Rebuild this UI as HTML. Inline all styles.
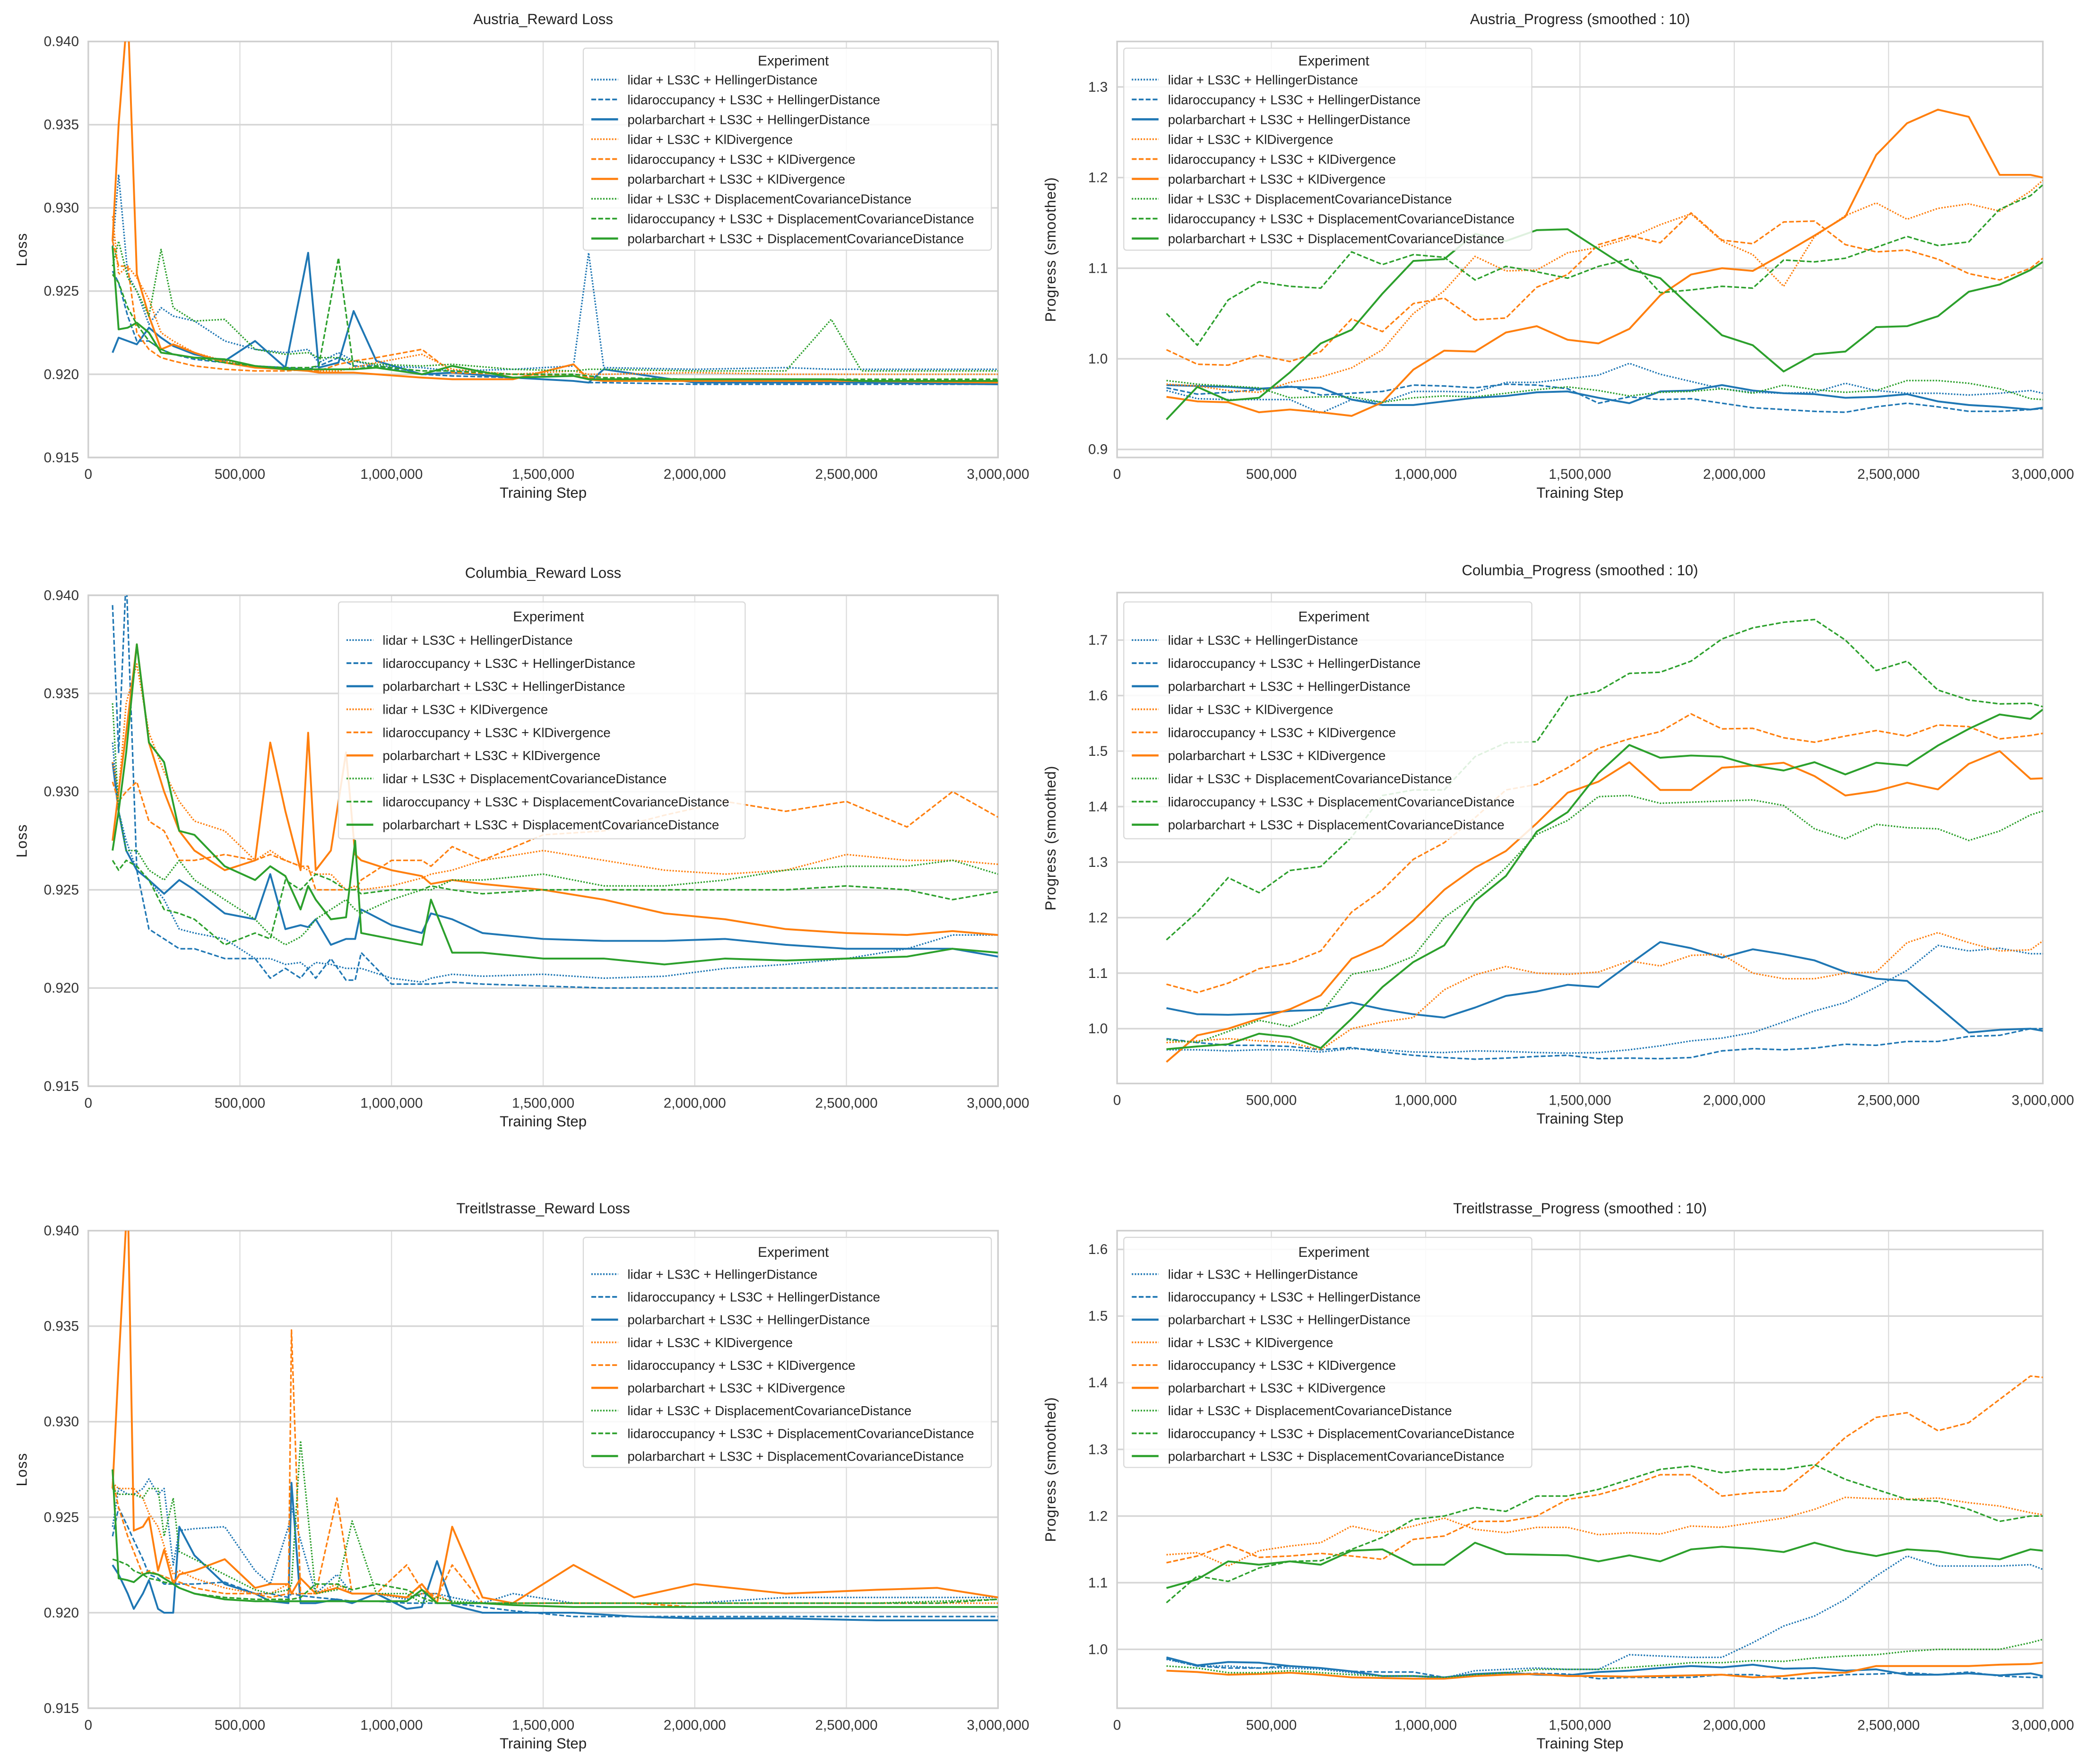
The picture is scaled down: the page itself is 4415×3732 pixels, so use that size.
<!DOCTYPE html>
<html><head><meta charset="utf-8">
<style>
html,body{margin:0;padding:0;background:#fff;}
svg{display:block;font-family:"Liberation Sans Narrow","Liberation Sans",sans-serif;}
</style></head>
<body>
<svg id="fig" xmlns="http://www.w3.org/2000/svg" width="4415" height="3732" viewBox="0 0 1560 1318.7" preserveAspectRatio="none"></svg>
<script>
// ---------- data ----------
const seriesNames = ["lidar + LS3C + HellingerDistance","lidaroccupancy + LS3C + HellingerDistance","polarbarchart + LS3C + HellingerDistance","lidar + LS3C + KlDivergence","lidaroccupancy + LS3C + KlDivergence","polarbarchart + LS3C + KlDivergence","lidar + LS3C + DisplacementCovarianceDistance","lidaroccupancy + LS3C + DisplacementCovarianceDistance","polarbarchart + LS3C + DisplacementCovarianceDistance"];
const progressSteps = [160,260,360,460,560,660,760,860,960,1060,1160,1260,1360,1460,1560,1660,1760,1860,1960,2060,2160,2260,2360,2460,2560,2660,2760,2860,2960,3000];

const austriaLossSteps = [80,100,130,160,200,240,280,350,450,550,650,725,760,825,875,950,1100,1200,1400,1600,1650,1700,2000,2300,2450,2550,3000];
const austriaLidarHD = [0.9275,0.932,0.926,0.925,0.923,0.924,0.9235,0.9232,0.922,0.9215,0.9213,0.9215,0.9207,0.9213,0.9208,0.9205,0.9204,0.9202,0.9203,0.9205,0.9273,0.9204,0.9203,0.9204,0.9203,0.9203,0.9203];
const austriaOccHD = [0.9262,0.9255,0.9235,0.922,0.922,0.9215,0.9212,0.9209,0.9207,0.9205,0.9204,0.9203,0.9205,0.921,0.9205,0.9205,0.920,0.9199,0.9198,0.9196,0.9195,0.9195,0.9194,0.9194,0.9194,0.9194,0.9194];
const austriaPolarHD = [0.9213,0.9222,0.922,0.9218,0.9228,0.9222,0.9217,0.9212,0.9208,0.922,0.9204,0.9273,0.9204,0.9207,0.9238,0.9208,0.920,0.9201,0.9198,0.9196,0.9195,0.9203,0.9195,0.9195,0.9195,0.9195,0.9194];
const austriaLidarKL = [0.9295,0.926,0.9265,0.9258,0.9245,0.9225,0.922,0.9213,0.9208,0.9205,0.9203,0.9202,0.9202,0.9202,0.9204,0.9207,0.9212,0.9203,0.920,0.9202,0.920,0.920,0.9201,0.920,0.920,0.920,0.920];
const austriaOccKL = [0.928,0.9265,0.9265,0.9225,0.9215,0.921,0.9208,0.9205,0.9203,0.9202,0.9202,0.9203,0.9202,0.9206,0.9208,0.921,0.9215,0.9201,0.920,0.9199,0.9198,0.9197,0.9197,0.9196,0.9196,0.9196,0.9196];
const austriaPolarKL = [0.928,0.935,0.942,0.926,0.9235,0.9215,0.9218,0.9213,0.9207,0.9204,0.9203,0.9202,0.9201,0.9201,0.9201,0.920,0.9198,0.9197,0.9197,0.9206,0.9197,0.9196,0.9196,0.9196,0.9196,0.9196,0.9195];
const austriaLidarDCD = [0.9265,0.928,0.9258,0.925,0.9235,0.9275,0.924,0.9232,0.9233,0.9215,0.9212,0.9213,0.921,0.921,0.9208,0.9206,0.9205,0.9206,0.9203,0.9202,0.9203,0.9203,0.9202,0.9202,0.9233,0.9202,0.9202];
const austriaOccDCD = [0.926,0.9255,0.924,0.923,0.922,0.9215,0.9212,0.921,0.9207,0.9205,0.9204,0.9204,0.9205,0.927,0.9203,0.9205,0.9202,0.9202,0.920,0.920,0.9199,0.9198,0.9197,0.9197,0.9197,0.9197,0.9197];
const austriaPolarDCD = [0.9277,0.9227,0.9228,0.9231,0.9225,0.9213,0.9212,0.921,0.9209,0.9205,0.9203,0.9203,0.9203,0.9203,0.9203,0.9204,0.920,0.9205,0.9198,0.9199,0.9197,0.9197,0.9197,0.9197,0.9197,0.9196,0.9196];

const austriaProgLidarHD = [0.965,0.956,0.955,0.955,0.955,0.94,0.955,0.952,0.964,0.964,0.963,0.974,0.974,0.978,0.982,0.995,0.983,0.975,0.967,0.963,0.962,0.963,0.973,0.965,0.962,0.962,0.96,0.962,0.965,0.962];
const austriaProgOccHD = [0.968,0.961,0.963,0.966,0.97,0.96,0.962,0.964,0.971,0.97,0.968,0.972,0.971,0.967,0.951,0.958,0.955,0.956,0.951,0.946,0.944,0.942,0.941,0.947,0.951,0.947,0.942,0.942,0.944,0.945];
const austriaProgPolarHD = [0.971,0.97,0.969,0.967,0.969,0.968,0.955,0.949,0.949,0.953,0.957,0.959,0.963,0.964,0.957,0.951,0.964,0.965,0.971,0.965,0.962,0.961,0.957,0.958,0.961,0.953,0.949,0.947,0.944,0.946];
const austriaProgLidarKL = [0.972,0.97,0.965,0.963,0.974,0.98,0.99,1.01,1.05,1.075,1.113,1.097,1.098,1.117,1.123,1.133,1.148,1.16,1.13,1.115,1.08,1.135,1.158,1.172,1.154,1.166,1.171,1.163,1.185,1.197];
const austriaProgOccKL = [1.01,0.994,0.993,1.004,0.997,1.008,1.044,1.03,1.061,1.067,1.043,1.045,1.079,1.093,1.126,1.136,1.128,1.161,1.131,1.127,1.151,1.152,1.126,1.118,1.12,1.11,1.094,1.087,1.1,1.111];
const austriaProgPolarKL = [0.958,0.953,0.952,0.941,0.944,0.941,0.937,0.952,0.988,1.009,1.008,1.029,1.036,1.021,1.017,1.033,1.07,1.093,1.1,1.097,1.116,1.136,1.157,1.225,1.26,1.275,1.267,1.203,1.203,1.2];
const austriaProgLidarDCD = [0.976,0.972,0.97,0.968,0.957,0.958,0.958,0.952,0.957,0.959,0.958,0.962,0.966,0.969,0.965,0.959,0.963,0.964,0.967,0.962,0.971,0.966,0.963,0.965,0.976,0.976,0.973,0.967,0.956,0.955];
const austriaProgOccDCD = [1.05,1.015,1.065,1.085,1.08,1.078,1.118,1.104,1.115,1.112,1.087,1.102,1.096,1.089,1.102,1.11,1.073,1.076,1.08,1.078,1.109,1.107,1.111,1.123,1.135,1.125,1.129,1.165,1.18,1.192];
const austriaProgPolarDCD = [0.933,0.969,0.954,0.957,0.985,1.017,1.032,1.072,1.108,1.11,1.138,1.13,1.142,1.143,1.121,1.099,1.089,1.057,1.026,1.015,0.986,1.005,1.008,1.035,1.036,1.047,1.074,1.082,1.098,1.107];

const columbiaLossSteps = [80,100,125,160,200,250,300,350,450,550,600,650,700,725,750,800,850,880,900,1000,1100,1130,1200,1300,1500,1700,1900,2100,2300,2500,2700,2850,3000];
const columbiaLidarHD = [0.9325,0.929,0.9275,0.926,0.9255,0.9245,0.923,0.9228,0.9225,0.9215,0.9215,0.9212,0.9213,0.921,0.9213,0.9212,0.921,0.921,0.921,0.9205,0.9203,0.9205,0.9207,0.9206,0.9207,0.9205,0.9206,0.921,0.9212,0.9215,0.922,0.9227,0.9227];
const columbiaOccHD = [0.9395,0.932,0.941,0.926,0.923,0.9225,0.922,0.922,0.9215,0.9215,0.9205,0.921,0.9205,0.921,0.9205,0.9215,0.9204,0.9204,0.9218,0.9202,0.9202,0.9202,0.9203,0.9202,0.9201,0.920,0.920,0.920,0.920,0.920,0.920,0.920,0.920];
const columbiaPolarHD = [0.9315,0.929,0.927,0.926,0.9255,0.9248,0.9255,0.925,0.9238,0.9235,0.9258,0.923,0.9232,0.9231,0.9235,0.9222,0.9225,0.9225,0.924,0.9232,0.9228,0.9238,0.9235,0.9228,0.9225,0.9224,0.9224,0.9225,0.9222,0.922,0.922,0.922,0.9216];
const columbiaLidarKL = [0.9315,0.930,0.9345,0.9365,0.933,0.931,0.9295,0.9285,0.928,0.9265,0.927,0.9265,0.9262,0.926,0.9258,0.9258,0.925,0.9252,0.925,0.9252,0.9256,0.9258,0.926,0.9265,0.927,0.9265,0.926,0.9258,0.926,0.9268,0.9265,0.9265,0.9263];
const columbiaOccKL = [0.9305,0.9295,0.930,0.9305,0.9285,0.928,0.9265,0.9265,0.9268,0.9265,0.9268,0.9265,0.9262,0.9262,0.925,0.925,0.925,0.925,0.9255,0.9265,0.9265,0.9262,0.9272,0.9265,0.9278,0.928,0.9288,0.9295,0.929,0.9295,0.9282,0.930,0.9287];
const columbiaPolarKL = [0.9275,0.930,0.933,0.9375,0.9325,0.930,0.928,0.927,0.926,0.9265,0.9325,0.929,0.926,0.933,0.926,0.927,0.932,0.9268,0.9265,0.926,0.9257,0.9253,0.9255,0.9253,0.925,0.9245,0.9238,0.9235,0.923,0.9228,0.9227,0.9229,0.9227];
const columbiaLidarDCD = [0.9345,0.929,0.927,0.927,0.926,0.9255,0.9265,0.9255,0.9245,0.9235,0.9227,0.9222,0.9226,0.923,0.9235,0.924,0.9245,0.924,0.9238,0.9245,0.925,0.925,0.9255,0.9255,0.9258,0.9252,0.9252,0.9255,0.926,0.9262,0.9262,0.9265,0.9258];
const columbiaOccDCD = [0.9265,0.926,0.9265,0.9262,0.9255,0.924,0.9238,0.9235,0.9222,0.9228,0.9225,0.9255,0.925,0.9254,0.9258,0.9255,0.925,0.925,0.9248,0.925,0.925,0.9252,0.925,0.9248,0.925,0.925,0.925,0.925,0.925,0.9252,0.925,0.9245,0.9249];
const columbiaPolarDCD = [0.927,0.929,0.932,0.9375,0.9325,0.9315,0.928,0.9278,0.9262,0.9255,0.9262,0.9257,0.924,0.9252,0.9245,0.9235,0.9236,0.9275,0.9228,0.9225,0.9222,0.9245,0.9218,0.9218,0.9215,0.9215,0.9212,0.9215,0.9214,0.9215,0.9216,0.922,0.9218];

const columbiaProgLidarHD = [0.962,0.962,0.96,0.962,0.962,0.958,0.964,0.962,0.958,0.957,0.96,0.959,0.957,0.956,0.957,0.962,0.969,0.978,0.983,0.993,1.012,1.032,1.047,1.075,1.105,1.15,1.14,1.145,1.135,1.135];
const columbiaProgOccHD = [0.982,0.975,0.97,0.97,0.968,0.962,0.966,0.958,0.952,0.948,0.945,0.947,0.95,0.952,0.946,0.947,0.946,0.948,0.96,0.964,0.962,0.965,0.972,0.97,0.977,0.977,0.986,0.988,1.0,1.0];
const columbiaProgPolarHD = [1.037,1.026,1.025,1.027,1.032,1.034,1.047,1.035,1.026,1.02,1.038,1.059,1.067,1.079,1.075,1.116,1.156,1.145,1.128,1.143,1.134,1.123,1.102,1.09,1.086,1.04,0.993,0.998,1.0,0.996];
const columbiaProgLidarKL = [0.975,0.978,0.982,0.978,0.975,0.962,1.0,1.012,1.02,1.07,1.097,1.112,1.1,1.098,1.102,1.122,1.113,1.132,1.134,1.1,1.09,1.09,1.1,1.102,1.155,1.173,1.155,1.14,1.142,1.158];
const columbiaProgOccKL = [1.08,1.065,1.082,1.108,1.118,1.14,1.21,1.25,1.305,1.335,1.38,1.43,1.44,1.47,1.505,1.522,1.535,1.567,1.54,1.541,1.524,1.516,1.527,1.537,1.527,1.547,1.544,1.522,1.528,1.532];
const columbiaProgPolarKL = [0.94,0.988,1.0,1.018,1.035,1.06,1.126,1.15,1.195,1.25,1.29,1.32,1.37,1.425,1.445,1.48,1.43,1.43,1.47,1.474,1.479,1.455,1.42,1.428,1.443,1.431,1.477,1.5,1.45,1.451];
const columbiaProgLidarDCD = [0.98,0.975,0.995,1.015,1.004,1.027,1.098,1.108,1.13,1.2,1.24,1.29,1.35,1.375,1.418,1.42,1.406,1.408,1.41,1.412,1.402,1.36,1.342,1.368,1.362,1.36,1.339,1.356,1.385,1.392];
const columbiaProgOccDCD = [1.16,1.21,1.272,1.245,1.285,1.292,1.345,1.42,1.43,1.43,1.49,1.515,1.517,1.598,1.608,1.64,1.642,1.662,1.702,1.722,1.732,1.737,1.7,1.645,1.662,1.61,1.592,1.585,1.586,1.58];
const columbiaProgPolarDCD = [0.963,0.968,0.972,0.991,0.985,0.965,1.018,1.075,1.12,1.15,1.23,1.275,1.355,1.39,1.46,1.511,1.488,1.492,1.49,1.474,1.465,1.48,1.458,1.479,1.474,1.51,1.54,1.566,1.558,1.575];

const treitlLossSteps = [80,100,130,150,180,200,230,250,280,300,350,450,550,600,660,670,700,750,820,870,950,1050,1100,1150,1200,1300,1400,1600,1800,2000,2300,2600,2800,3000];
const treitlLidarHD = [0.9245,0.9265,0.9262,0.9262,0.9265,0.927,0.9262,0.9265,0.9225,0.9243,0.9244,0.9245,0.9222,0.9215,0.9245,0.9255,0.9238,0.921,0.922,0.921,0.921,0.9207,0.921,0.921,0.9208,0.9205,0.921,0.9205,0.9205,0.9205,0.9208,0.9208,0.9208,0.9208];
const treitlOccHD = [0.924,0.9255,0.9245,0.9238,0.9228,0.922,0.9218,0.9215,0.9215,0.9215,0.9215,0.9216,0.921,0.921,0.9208,0.921,0.9209,0.9208,0.9207,0.9206,0.9206,0.9205,0.9205,0.9205,0.9205,0.9203,0.9201,0.9198,0.9198,0.9198,0.9198,0.9198,0.9198,0.9198];
const treitlPolarHD = [0.9225,0.922,0.921,0.9202,0.921,0.9217,0.9202,0.920,0.920,0.9245,0.923,0.9215,0.921,0.9206,0.9205,0.9268,0.9205,0.9205,0.9207,0.9205,0.921,0.9202,0.9203,0.9227,0.9204,0.920,0.920,0.920,0.9198,0.9197,0.9197,0.9196,0.9196,0.9196];
const treitlLidarKL = [0.9268,0.9265,0.9265,0.9265,0.926,0.9252,0.9245,0.9235,0.922,0.9222,0.9218,0.9213,0.921,0.921,0.9215,0.921,0.921,0.921,0.9215,0.921,0.921,0.9208,0.921,0.921,0.9205,0.9205,0.9205,0.9205,0.9205,0.9205,0.9205,0.9205,0.9205,0.9205];
const treitlOccKL = [0.927,0.9255,0.924,0.9232,0.922,0.9222,0.922,0.9219,0.9217,0.9216,0.9213,0.921,0.921,0.9208,0.921,0.9348,0.921,0.921,0.926,0.921,0.921,0.9225,0.9212,0.9208,0.9225,0.9205,0.9205,0.9205,0.9205,0.9203,0.9203,0.9203,0.9203,0.9203];
const treitlPolarKL = [0.9265,0.933,0.942,0.9243,0.9245,0.925,0.9222,0.9233,0.9215,0.922,0.9222,0.9228,0.9213,0.9215,0.9215,0.921,0.9218,0.921,0.9213,0.921,0.921,0.9208,0.9215,0.9205,0.9245,0.9208,0.9205,0.9225,0.9208,0.9215,0.921,0.9212,0.9213,0.9208];
const treitlLidarDCD = [0.9265,0.9262,0.9262,0.9262,0.926,0.9265,0.9265,0.924,0.926,0.9232,0.9228,0.922,0.9212,0.921,0.9212,0.9215,0.929,0.921,0.9212,0.9248,0.921,0.921,0.9205,0.9208,0.9206,0.9205,0.9205,0.9205,0.9205,0.9205,0.9205,0.9205,0.9206,0.9207];
const treitlOccDCD = [0.9228,0.9227,0.9225,0.9222,0.922,0.9218,0.9217,0.9216,0.9215,0.9213,0.921,0.9208,0.9207,0.9207,0.9207,0.9207,0.9208,0.9215,0.9215,0.9212,0.9215,0.9212,0.9208,0.9205,0.9205,0.9205,0.9205,0.9205,0.9205,0.9205,0.9205,0.9205,0.9205,0.9207];
const treitlPolarDCD = [0.9275,0.9218,0.9217,0.9216,0.922,0.9221,0.922,0.9218,0.9215,0.9213,0.921,0.9207,0.9206,0.9206,0.9206,0.9206,0.9206,0.9206,0.9206,0.9206,0.9206,0.9206,0.9212,0.9205,0.9205,0.9205,0.9204,0.9203,0.9203,0.9203,0.9203,0.9203,0.9203,0.9203];

const treitlProgLidarHD = [0.985,0.975,0.975,0.972,0.972,0.97,0.965,0.96,0.96,0.957,0.968,0.97,0.972,0.97,0.97,0.992,0.99,0.988,0.988,1.01,1.035,1.05,1.075,1.11,1.14,1.125,1.125,1.125,1.127,1.12];
const treitlProgOccHD = [0.986,0.975,0.972,0.972,0.975,0.972,0.967,0.966,0.966,0.958,0.962,0.963,0.964,0.963,0.956,0.958,0.958,0.958,0.962,0.962,0.956,0.957,0.962,0.963,0.965,0.962,0.966,0.96,0.958,0.958];
const treitlProgPolarHD = [0.988,0.976,0.981,0.98,0.975,0.972,0.967,0.96,0.96,0.958,0.963,0.965,0.962,0.961,0.966,0.968,0.972,0.975,0.973,0.977,0.971,0.972,0.968,0.97,0.962,0.962,0.964,0.961,0.964,0.96];
const treitlProgLidarKL = [1.142,1.145,1.125,1.148,1.155,1.16,1.185,1.175,1.185,1.197,1.18,1.175,1.183,1.183,1.172,1.175,1.173,1.185,1.183,1.19,1.197,1.21,1.228,1.226,1.225,1.227,1.22,1.215,1.205,1.202];
const treitlProgOccKL = [1.13,1.14,1.157,1.138,1.14,1.144,1.14,1.135,1.165,1.17,1.192,1.192,1.2,1.225,1.232,1.245,1.262,1.262,1.23,1.235,1.238,1.275,1.318,1.348,1.355,1.328,1.34,1.375,1.41,1.408];
const treitlProgPolarKL = [0.968,0.966,0.962,0.963,0.965,0.962,0.958,0.957,0.956,0.956,0.96,0.962,0.963,0.96,0.96,0.959,0.96,0.961,0.962,0.958,0.96,0.965,0.965,0.975,0.975,0.975,0.975,0.977,0.978,0.98];
const treitlProgLidarDCD = [0.975,0.972,0.965,0.965,0.968,0.965,0.962,0.96,0.96,0.958,0.962,0.965,0.97,0.97,0.97,0.973,0.976,0.98,0.98,0.983,0.982,0.987,0.99,0.992,0.997,1.0,1.0,1.0,1.01,1.015];
const treitlProgOccDCD = [1.07,1.11,1.102,1.122,1.132,1.133,1.15,1.168,1.195,1.2,1.213,1.207,1.23,1.23,1.24,1.255,1.27,1.275,1.265,1.27,1.27,1.277,1.255,1.24,1.225,1.222,1.21,1.192,1.2,1.2];
const treitlProgPolarDCD = [1.092,1.105,1.132,1.127,1.132,1.127,1.148,1.15,1.127,1.127,1.16,1.143,1.142,1.141,1.132,1.141,1.132,1.15,1.154,1.151,1.146,1.16,1.148,1.14,1.15,1.147,1.139,1.135,1.15,1.148];

const lossTicks = [0.915,0.920,0.925,0.930,0.935,0.940];
const xTicks = [0,500000,1000000,1500000,2000000,2500000,3000000];
const xTickLabels = ["0","500,000","1,000,000","1,500,000","2,000,000","2,500,000","3,000,000"];

// ---------- drawing ----------
const NS = "http://www.w3.org/2000/svg";
const svg = document.getElementById("fig");
const COLORS = ["#1f77b4","#1f77b4","#1f77b4","#ff7f0e","#ff7f0e","#ff7f0e","#2ca02c","#2ca02c","#2ca02c"];
const DASH = ["1.1,1.1","3.6,1.6",null];

function el(tag, attrs, parent){
  const e = document.createElementNS(NS, tag);
  for (const k in attrs) e.setAttribute(k, attrs[k]);
  (parent||svg).appendChild(e);
  return e;
}

const panels = [
  {id:"austria-loss",title:"Austria_Reward Loss",ylab:"Loss",L:66,R:746,T:31,B:342,ymin:0.915,ymax:0.940,ticks:lossTicks,dec:3,steps:austriaLossSteps,
   data:[austriaLidarHD,austriaOccHD,austriaPolarHD,austriaLidarKL,austriaOccKL,austriaPolarKL,austriaLidarDCD,austriaOccDCD,austriaPolarDCD],
   leg:{x:436,y:36,w:305,h:151,ty:45.5,e0:59.5,es:14.85}},
  {id:"austria-progress",title:"Austria_Progress (smoothed : 10)",ylab:"Progress (smoothed)",L:835,R:1527,T:31,B:342,ymin:0.8911,ymax:1.3502,ticks:[0.9,1.0,1.1,1.2,1.3],dec:1,steps:progressSteps,
   data:[austriaProgLidarHD,austriaProgOccHD,austriaProgPolarHD,austriaProgLidarKL,austriaProgOccKL,austriaProgPolarKL,austriaProgLidarDCD,austriaProgOccDCD,austriaProgPolarDCD],
   leg:{x:840,y:36,w:305,h:151,ty:45.5,e0:59.5,es:14.85}},
  {id:"columbia-loss",title:"Columbia_Reward Loss",ylab:"Loss",L:66,R:746,T:445,B:812,ymin:0.915,ymax:0.940,ticks:lossTicks,dec:3,steps:columbiaLossSteps,
   data:[columbiaLidarHD,columbiaOccHD,columbiaPolarHD,columbiaLidarKL,columbiaOccKL,columbiaPolarKL,columbiaLidarDCD,columbiaOccDCD,columbiaPolarDCD],
   leg:{x:253,y:450,w:304,h:177,ty:461,e0:478.5,es:17.25}},
  {id:"columbia-progress",title:"Columbia_Progress (smoothed : 10)",ylab:"Progress (smoothed)",L:835,R:1527,T:443,B:810,ymin:0.9012,ymax:1.7855,ticks:[1.0,1.1,1.2,1.3,1.4,1.5,1.6,1.7],dec:1,steps:progressSteps,
   data:[columbiaProgLidarHD,columbiaProgOccHD,columbiaProgPolarHD,columbiaProgLidarKL,columbiaProgOccKL,columbiaProgPolarKL,columbiaProgLidarDCD,columbiaProgOccDCD,columbiaProgPolarDCD],
   leg:{x:840,y:450,w:305,h:177,ty:461,e0:478.5,es:17.25}},
  {id:"treitlstrasse-loss",title:"Treitlstrasse_Reward Loss",ylab:"Loss",L:66,R:746,T:920,B:1277,ymin:0.915,ymax:0.940,ticks:lossTicks,dec:3,steps:treitlLossSteps,
   data:[treitlLidarHD,treitlOccHD,treitlPolarHD,treitlLidarKL,treitlOccKL,treitlPolarKL,treitlLidarDCD,treitlOccDCD,treitlPolarDCD],
   leg:{x:436,y:925,w:305,h:172,ty:936,e0:952.5,es:17}},
  {id:"treitlstrasse-progress",title:"Treitlstrasse_Progress (smoothed : 10)",ylab:"Progress (smoothed)",L:835,R:1527,T:920,B:1277,ymin:0.9117,ymax:1.6281,ticks:[1.0,1.1,1.2,1.3,1.4,1.5,1.6],dec:1,steps:progressSteps,
   data:[treitlProgLidarHD,treitlProgOccHD,treitlProgPolarHD,treitlProgLidarKL,treitlProgOccKL,treitlProgPolarKL,treitlProgLidarDCD,treitlProgOccDCD,treitlProgPolarDCD],
   leg:{x:840,y:925,w:305,h:172,ty:936,e0:952.5,es:17}}
];

panels.forEach((p, pi) => {
  const g = el("g", {});
  
  
  const xs = v => p.L + (v / 3000000) * (p.R - p.L);
  const ys = v => p.B - (v - p.ymin) / (p.ymax - p.ymin) * (p.B - p.T);

  // title
  const t = el("text", {x:(p.L+p.R)/2, y:p.T-13, "text-anchor":"middle", "font-size":"11", fill:"#222"}, g);
  t.textContent = p.title;
  
  

  // grid
  xTicks.forEach((v, i) => {
    const ln = el("line", {x1:xs(v), x2:xs(v), y1:p.T, y2:p.B, stroke:"#dcdcdc", "stroke-width":"0.8"}, g);
    
    
    const tl = el("text", {x:xs(v), y:p.B+16, "text-anchor":"middle", "font-size":"10.5", fill:"#333"}, g);
    tl.textContent = xTickLabels[i];
    
    
  });
  p.ticks.forEach(v => {
    const ln = el("line", {x1:p.L, x2:p.R, y1:ys(v), y2:ys(v), stroke:"#d6d6d6", "stroke-width":"1.2"}, g);
    
    
    const tl = el("text", {x:p.L-7, y:ys(v)+3.5, "text-anchor":"end", "font-size":"10.5", fill:"#333"}, g);
    tl.textContent = v.toFixed(p.dec);
    
    
  });
  const frame = el("rect", {x:p.L, y:p.T, width:p.R-p.L, height:p.B-p.T, fill:"none", stroke:"#cfcfcf", "stroke-width":"1.2"}, g);
  
  

  // axis titles
  const xt = el("text", {x:(p.L+p.R)/2, y:p.B+30, "text-anchor":"middle", "font-size":"11", fill:"#222"}, g);
  xt.textContent = "Training Step";
  
  
  const yx = p.L - 46, yy = (p.T+p.B)/2;
  const yt = el("text", {x:yx, y:yy, "text-anchor":"middle", "font-size":"11", fill:"#222", transform:`rotate(-90 ${yx} ${yy})`, "letter-spacing": p.ylab==="Loss" ? "0.5" : "0.3"}, g);
  yt.textContent = p.ylab;
  
  

  // clip
  const cp = el("clipPath", {id:"clip"+pi}, g);
  el("rect", {x:p.L, y:p.T, width:p.R-p.L, height:p.B-p.T}, cp);

  // series
  p.data.forEach((vals, si) => {
    let d = "";
    vals.forEach((v, k) => { d += (k ? "L" : "M") + xs(p.steps[k]*1000).toFixed(2) + "," + ys(v).toFixed(2); });
    const attrs = {d:d, fill:"none", stroke:COLORS[si], "stroke-width": si%3===2 ? "1.4" : "1.15", "stroke-linejoin":"round", "clip-path":`url(#clip${pi})`};
    if (DASH[si%3]) attrs["stroke-dasharray"] = DASH[si%3];
    const path = el("path", attrs, g);
    
    
  });

  // legend
  const lg = el("g", {}, g);
  
  
  const L = p.leg;
  el("rect", {x:L.x, y:L.y, width:L.w, height:L.h, rx:"2", fill:"#fff", "fill-opacity":"0.85", stroke:"#d8d8d8", "stroke-width":"0.8"}, lg);
  const lt = el("text", {x:L.x+157, y:L.ty+3.5, "text-anchor":"middle", "font-size":"10.5", fill:"#222"}, lg);
  lt.textContent = "Experiment";
  
  
  seriesNames.forEach((nm, si) => {
    const yy2 = L.e0 + si * L.es;
    const la = {x1:L.x+6, x2:L.x+26, y1:yy2, y2:yy2, stroke:COLORS[si], "stroke-width": si%3===2 ? "1.6" : "1.3"};
    if (DASH[si%3]) la["stroke-dasharray"] = DASH[si%3];
    const sw = el("line", la, lg);
    
    
    const tx = el("text", {x:L.x+33, y:yy2+3.5, "font-size":"9.8", fill:"#222"}, lg);
    tx.textContent = nm;
    
    
  });
});
</script>
</body></html>
